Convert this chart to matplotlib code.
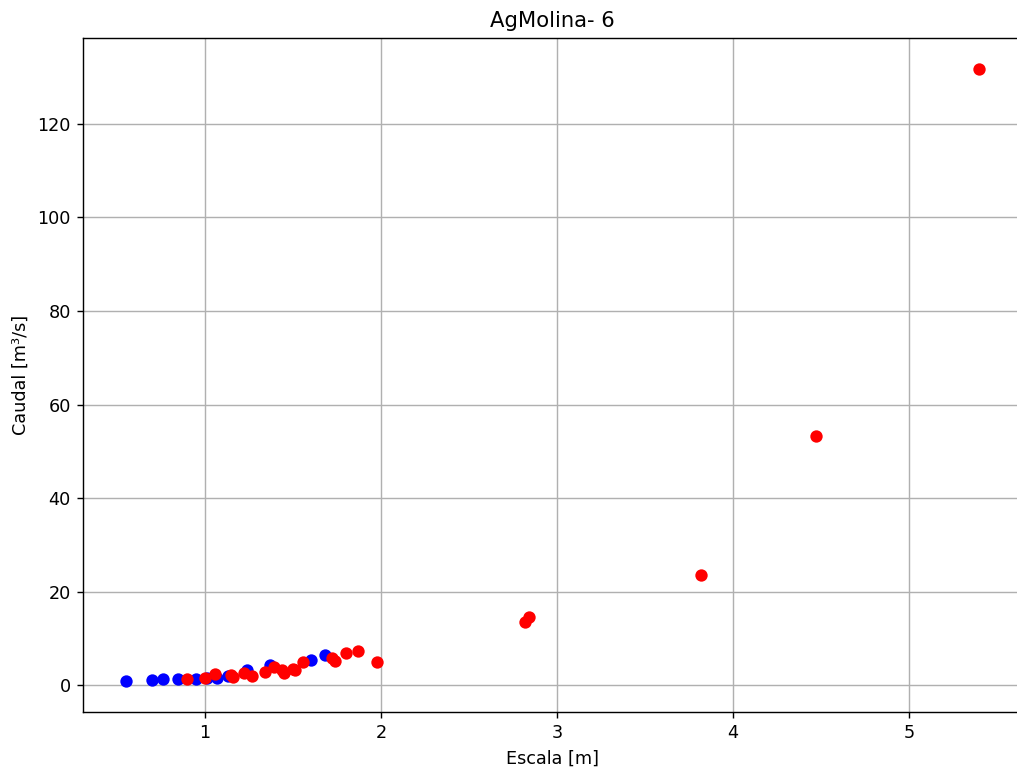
import matplotlib
matplotlib.use('Agg')
import matplotlib.pyplot as plt

# aforos (blue) and curva/registros (red)
escala_azul = [0.55, 0.70, 0.76, 0.85, 0.95, 1.01, 1.07, 1.13, 1.24, 1.37, 1.60, 1.68]
caudal_azul = [0.86, 1.07, 1.29, 1.29, 1.4, 1.5, 1.5, 2.1, 3.2, 4.3, 5.4, 6.4]

escala_rojo = [0.90, 1.00, 1.06, 1.16, 1.15, 1.22, 1.27, 1.34, 1.39, 1.44, 1.45, 1.50,
               1.51, 1.56, 1.72, 1.74, 1.80, 1.87, 1.98, 2.82, 2.84, 3.82, 4.47, 5.40]
caudal_rojo = [1.3, 1.5, 2.4, 1.7, 2.2, 2.6, 2.1, 2.8, 3.9, 3.2, 2.6, 3.6,
               3.2, 4.9, 5.8, 5.3, 6.9, 7.3, 4.9, 13.5, 14.6, 23.5, 53.4, 131.8]

dpi = 127
fig = plt.figure(figsize=(1017/dpi, 769/dpi), dpi=dpi)
ax = fig.add_subplot(111)
fig.subplots_adjust(left=0.0816, right=1.005, top=0.9506, bottom=0.0741)

ax.plot(escala_azul, caudal_azul, 'bo')
ax.plot(escala_rojo, caudal_rojo, 'ro')
ax.set_title('AgMolina- 6')
ax.set_xlabel('Escala [m]')
ax.set_ylabel('Caudal [m³/s]')
ax.grid(True)

plt.savefig('out.png', dpi=dpi)
